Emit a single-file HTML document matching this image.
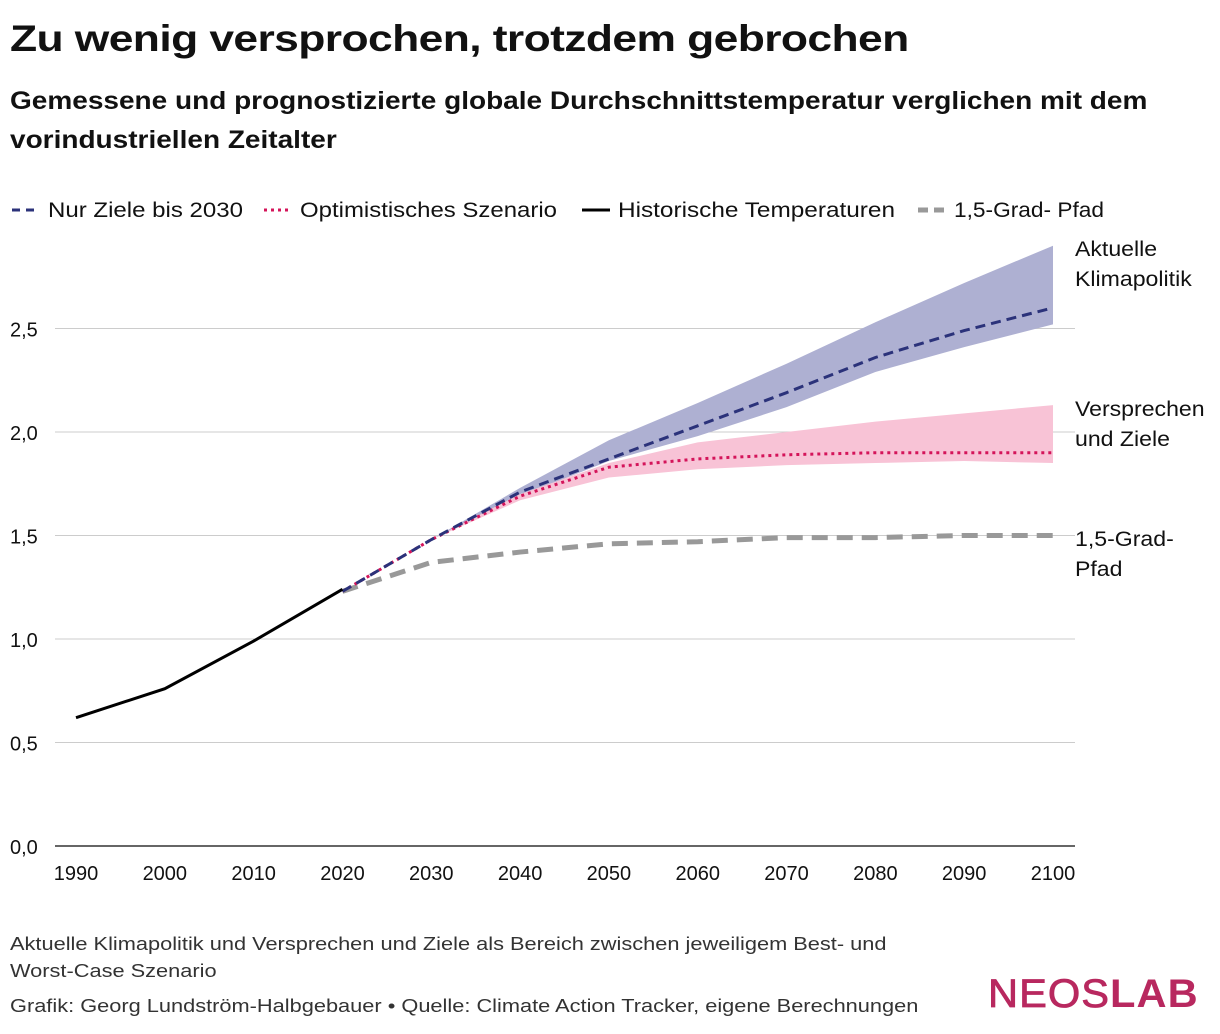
<!DOCTYPE html>
<html><head><meta charset="utf-8"><style>
body{margin:0;width:1220px;height:1034px;background:#fff;font-family:"Liberation Sans",sans-serif;color:#111;position:relative;overflow:hidden}
.t{position:absolute;margin:0;transform-origin:0 0;white-space:nowrap}
</style></head><body>
<h1 class="t" style="left:10px;top:18px;font-size:37px;font-weight:bold;letter-spacing:-0.5px;transform:scaleX(1.2)">Zu wenig versprochen, trotzdem gebrochen</h1>
<div class="t" style="left:10px;top:82px;font-size:25px;font-weight:bold;line-height:39px;transform:scaleX(1.12)">Gemessene und prognostizierte globale Durchschnittstemperatur verglichen mit dem<br>vorindustriellen Zeitalter</div>
<svg id="c" width="1220" height="1034" style="position:absolute;left:0;top:0" font-family="Liberation Sans, sans-serif"></svg>
<div class="t" style="left:10px;top:931px;font-size:18px;line-height:27px;color:#333;transform:scaleX(1.21)">Aktuelle Klimapolitik und Versprechen und Ziele als Bereich zwischen jeweiligem Best- und<br>Worst-Case Szenario</div>
<div class="t" style="left:10px;top:996px;font-size:18px;color:#333;transform:scaleX(1.21)">Grafik: Georg Lundström-Halbgebauer • Quelle: Climate Action Tracker, eigene Berechnungen</div>
<div class="t" style="left:988px;top:972px;font-size:40px;color:#b8285f;letter-spacing:1px;transform:scaleX(1.04)"><span style="-webkit-text-stroke:0.8px #b8285f">NEOS</span><b>LAB</b></div>
<script>
const years=[2020,2030,2040,2050,2060,2070,2080,2090,2100];
const histYears=[1990,2000,2010,2020];
const histVals=[0.62,0.76,0.99,1.24];
const zieleVals=[1.23,1.48,1.71,1.87,2.03,2.19,2.36,2.49,2.60];
const aktHigh=[1.23,1.48,1.73,1.96,2.14,2.33,2.53,2.72,2.90];
const aktLow=[1.23,1.48,1.69,1.86,1.98,2.12,2.29,2.41,2.52];
const optVals=[1.23,1.48,1.69,1.83,1.87,1.89,1.90,1.90,1.90];
const optHigh=[1.23,1.48,1.70,1.85,1.95,2.00,2.05,2.09,2.13];
const optLow=[1.23,1.48,1.67,1.78,1.82,1.84,1.85,1.86,1.85];
const gradVals=[1.23,1.37,1.42,1.46,1.47,1.49,1.49,1.50,1.50];
const yTicks=[0,0.5,1.0,1.5,2.0,2.5];
const yLabels=["0,0","0,5","1,0","1,5","2,0","2,5"];
const xTicks=[1990,2000,2010,2020,2030,2040,2050,2060,2070,2080,2090,2100];
const legendItems=["Nur Ziele bis 2030","Optimistisches Szenario","Historische Temperaturen","1,5-Grad- Pfad"];
const X=y=>76+(y-1990)*(1053-76)/110;
const Y=v=>846-v*207;
const svg=document.getElementById('c');const NS='http://www.w3.org/2000/svg';
function mk(t,a,name){const e=document.createElementNS(NS,t);for(const k in a)e.setAttribute(k,a[k]);


svg.appendChild(e);return e;}
yTicks.forEach((v,i)=>{mk('line',{x1:55,x2:1075,y1:Y(v),y2:Y(v),stroke:v==0?'#333':'#ccc','stroke-width':v==0?1.5:1},'gridline');
const t=mk('text',{x:10,y:Y(v)+8,'font-size':20,fill:'#111'},'y-tick-label');t.textContent=yLabels[i];});
xTicks.forEach(x=>{const t=mk('text',{x:X(x),y:880,'font-size':20,'text-anchor':'middle',fill:'#111'},'x-tick-label');t.textContent=x;});
const pts=(xs,vs)=>xs.map((x,i)=>X(x)+','+Y(vs[i])).join(' ');
const band=(h,l)=>pts(years,h)+' '+years.slice().reverse().map((x,i)=>X(x)+','+Y(l[l.length-1-i])).join(' ');
mk('polygon',{points:band(aktHigh,aktLow),fill:'#aeb0d2'},'band-aktuelle-klimapolitik');
mk('polygon',{points:band(optHigh,optLow),fill:'#f8c3d6'},'band-versprechen-ziele');
mk('polyline',{points:pts(years,gradVals),fill:'none',stroke:'#999','stroke-width':5,'stroke-dasharray':'16 9'},'line-1-5-grad');
mk('polyline',{points:pts(years,optVals),fill:'none',stroke:'#d4145a','stroke-width':3,'stroke-dasharray':'3 4'},'line-optimistisch');
mk('polyline',{points:pts(years,zieleVals),fill:'none',stroke:'#2b327a','stroke-width':3,'stroke-dasharray':'10 6'},'line-nur-ziele');
mk('polyline',{points:pts(histYears,histVals),fill:'none',stroke:'#000','stroke-width':3},'line-historisch');
const lx=[12,264,582,918],lw=[195,257,277,150],sty=[['#2b327a','8 6',3],['#d4145a','3 4',3],['#000','none',3],['#999','10 6',5]];
legendItems.forEach((s,i)=>{mk('line',{x1:lx[i],x2:lx[i]+28,y1:210,y2:210,stroke:sty[i][0],'stroke-dasharray':sty[i][1],'stroke-width':sty[i][2]},'legend-swatch');
const t=mk('text',{x:lx[i]+36,y:217,'font-size':21,fill:'#111',textLength:lw[i],lengthAdjust:'spacingAndGlyphs'},'legend-entry');t.textContent=s;});
[['Aktuelle',256],['Klimapolitik',286],['Versprechen',416],['und Ziele',446],['1,5-Grad-',546],['Pfad',576]].forEach(a=>{const t=mk('text',{x:1075,y:a[1],'font-size':21,fill:'#111',transform:'translate(1075 0) scale(1.1 1) translate(-1075 0)'},'series-label');t.textContent=a[0];});
</script>
</body></html>
